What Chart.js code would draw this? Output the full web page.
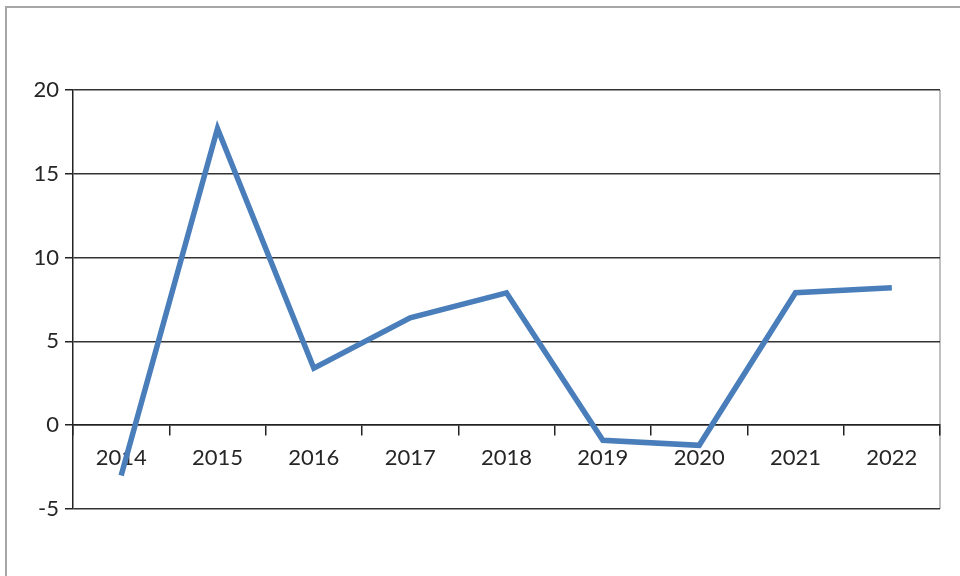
<!DOCTYPE html>
<html>
<head>
<meta charset="utf-8">
<script src="https://cdn.jsdelivr.net/npm/chart.js@4"></script>
<style>
  body { margin: 0; background: #fff; }
  #wrap { width: 960px; height: 576px; }
</style>
</head>
<body>
<div id="wrap"><canvas id="chart"></canvas></div>
<script>
const years = ['2014', '2015', '2016', '2017', '2018', '2019', '2020', '2021', '2022']
const values = [-3.0, 17.7, 3.4, 6.4, 7.9, -0.9, -1.2, 7.9, 8.2]
const yMin = -5
const yMax = 20
const yStep = 5

// gray frame round the picture and the light right edge of the plot
const framePlugin = {
    id: 'frame',
    beforeDraw(chart) {
        const ctx = chart.ctx
        const area = chart.chartArea
        ctx.save()
        ctx.strokeStyle = '#a6a6a6'
        ctx.lineWidth = 2
        ctx.beginPath()
        ctx.moveTo(6, chart.height)
        ctx.lineTo(6, 7)
        ctx.lineTo(chart.width, 7)
        ctx.stroke()
        ctx.strokeStyle = '#c0c0c0'
        ctx.lineWidth = 2
        ctx.beginPath()
        ctx.moveTo(area.right, area.top)
        ctx.lineTo(area.right, area.bottom)
        ctx.stroke()
        ctx.restore()
    }
}

const canvas = document.getElementById('chart')
const myChart = new Chart(
    canvas,
    {
        type: 'line',
        data: {
            labels: years,
            datasets: [{
                data: values,
                borderColor: '#4a7ebb',
                borderWidth: 5.5,
                pointRadius: 0,
                tension: 0,
                borderJoinStyle: 'miter'
            }]
        },
        options: {
            responsive: true,
            maintainAspectRatio: false,
            animation: false,
            layout: {
                padding: { top: 90, right: 20, bottom: 67, left: 0 }
            },
            plugins: {
                legend: { display: false },
                tooltip: { enabled: false }
            },
            scales: {
                x: {
                    position: { y: 0 },
                    offset: true,
                    grid: {
                        offset: true,
                        drawOnChartArea: false,
                        drawTicks: true,
                        tickLength: 10,
                        tickColor: '#222',
                        lineWidth: 1.5
                    },
                    border: { color: '#222', width: 1.5 },
                    ticks: {
                        color: '#262626',
                        padding: 10,
                        maxRotation: 0,
                        font: { family: 'Lato', size: 22 }
                    }
                },
                y: {
                    min: yMin,
                    max: yMax,
                    afterFit: (scale) => { scale.width = 73 },
                    grid: {
                        color: '#333',
                        lineWidth: 1.5,
                        tickLength: 8,
                        tickColor: '#222'
                    },
                    border: { color: '#222', width: 1.5 },
                    ticks: {
                        stepSize: yStep,
                        color: '#262626',
                        padding: 6,
                        font: { family: 'Lato', size: 22 }
                    }
                }
            }
        },
        plugins: [framePlugin]
    }
)
</script>
</body>
</html>
